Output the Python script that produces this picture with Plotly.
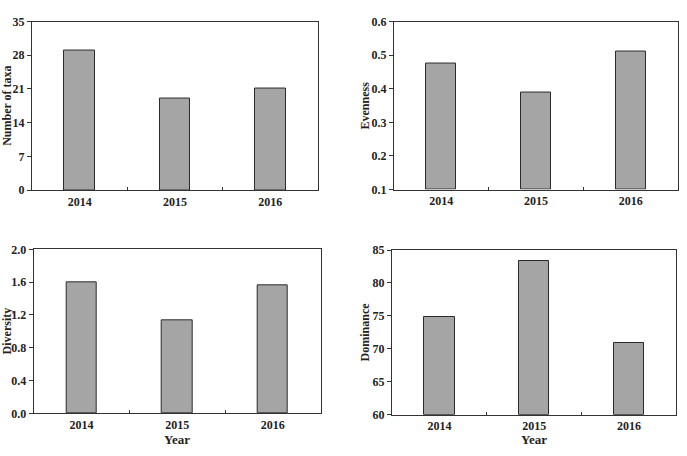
import plotly.graph_objects as go

years = ["2014", "2015", "2016"]
taxa = [29, 19, 21]
evenness = [0.476, 0.39, 0.51]
diversity = [1.6, 1.14, 1.56]
dominance = [74.8, 83.4, 70.9]

W, H = 687, 456
def px_x(a, b):
    return [a / W, b / W]
def px_y(top, bottom):
    return [1 - bottom / H, 1 - top / H]

panels = [
    dict(vals=taxa, x=px_x(32, 318), y=px_y(15, 189), rng=[0, 35], dt=7, fmt="d", title="Number of taxa", tx=7),
    dict(vals=evenness, x=px_x(394, 678), y=px_y(15, 188.3), rng=[0.1, 0.6], dt=0.1, fmt=".1f", title="Evenness", tx=365),
    dict(vals=diversity, x=px_x(33.7, 320.7), y=px_y(250, 419.3), rng=[0, 2.0], dt=0.4, fmt=".1f", title="Diversity", tx=7),
    dict(vals=dominance, x=px_x(392, 676.3), y=px_y(250.7, 420.7), rng=[60, 85], dt=5, fmt="d", title="Dominance", tx=365),
]

font = dict(family="Liberation Serif", size=12, color="#222", weight="bold")
fig = go.Figure()
annotations = []
for i, p in enumerate(panels):
    n = "" if i == 0 else str(i + 1)
    fig.add_trace(go.Bar(
        x=years, y=[v - p["rng"][0] for v in p["vals"]], base=p["rng"][0],
        xaxis="x" + n, yaxis="y" + n, width=0.32,
        marker=dict(color="#a5a5a5", line=dict(color="#2b2b2b", width=1)),
        showlegend=False,
    ))
    fig.layout["xaxis" + n] = dict(
        domain=p["x"], anchor="y" + n, type="category",
        showline=True, linecolor="#333", linewidth=1, mirror=True,
        ticks="inside", tickson="boundaries", ticklen=3, tickcolor="#333",
        tickfont=font, ticklabelstandoff=0, showgrid=False, zeroline=False, fixedrange=True,
    )
    fig.layout["yaxis" + n] = dict(
        domain=p["y"], anchor="x" + n, range=p["rng"], dtick=p["dt"], tick0=p["rng"][0],
        tickformat=p["fmt"], showline=True, linecolor="#333", linewidth=1, mirror=True,
        ticks="outside", ticklen=4, tickcolor="#333", tickfont=font,
        showgrid=False, zeroline=False, fixedrange=True,
    )
    yc = (p["y"][0] + p["y"][1]) / 2
    annotations.append(dict(
        text=p["title"], x=p["tx"] / W, y=yc, xref="paper", yref="paper",
        textangle=-90, showarrow=False, font=dict(family="Liberation Serif", size=12, color="#222", weight="bold"),
        xanchor="center", yanchor="middle",
    ))

for xa, xb in [(33.7, 320.7), (392, 676.3)]:
    annotations.append(dict(text="Year", x=(xa + xb) / 2 / W, y=0, xref="paper", yref="paper",
                            xanchor="center", yanchor="bottom", showarrow=False,
                            font=dict(family="Liberation Serif", size=13, color="#222", weight="bold")))

fig.update_layout(
    width=W, height=H, margin=dict(l=0, r=0, t=0, b=0),
    paper_bgcolor="white", plot_bgcolor="white",
    annotations=annotations, bargap=0,
)
fig.write_html("out.html")
